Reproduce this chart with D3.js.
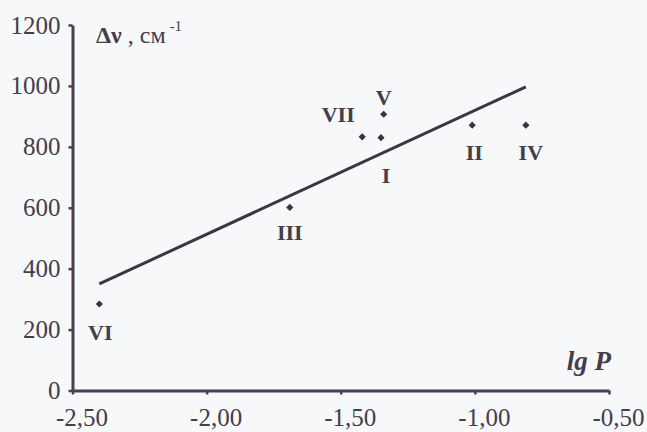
<!DOCTYPE html>
<html>
<head>
<meta charset="utf-8">
<script src="https://cdn.jsdelivr.net/npm/d3@7"></script>
<style>
  html, body { margin: 0; padding: 0; background: #f7f8fa; }
  svg { display: block; }
</style>
</head>
<body>
<script>
// compound labels, lg P and wavenumber shift
const names = ["I", "II", "III", "IV", "V", "VI", "VII"];
const lgP = [-1.35, -1.01, -1.69, -0.81, -1.34, -2.40, -1.42];
const dnu = [830, 871, 601, 871, 907, 284, 833];

// regression line end points
const fitX = [-2.40, -0.81];
const fitY = [350, 997];

const xTicks = [-2.5, -2.0, -1.5, -1.0, -0.5];
const yTicks = [0, 200, 400, 600, 800, 1000, 1200];

const W = 647, H = 432;
const ink = "#443d4a", axisInk = "#4b3f58";
const serif = "'Liberation Serif', 'Times New Roman', serif";

const svg = d3.select("body").append("svg")
  .attr("width", W)
  .attr("height", H)
  .attr("xmlns", "http://www.w3.org/2000/svg");

svg.append("rect").attr("width", W).attr("height", H).attr("fill", "#f7f8fa");

const x = d3.scaleLinear().domain([-2.5, -0.5]).range([72.5, 609]);
const y = d3.scaleLinear().domain([0, 1200]).range([390.5, 25]);

const comma = d => d3.format(".2f")(d).replace(".", ",").replace("−", "-");

// y axis
const gy = svg.append("g")
  .attr("transform", "translate(" + x(-2.5) + ",0)")
  .call(d3.axisLeft(y).tickValues(yTicks).tickFormat(d3.format("d")).tickSize(4).tickSizeOuter(0).tickPadding(8));
gy.select(".domain").attr("stroke", axisInk).attr("stroke-width", 3);
gy.selectAll(".tick line").attr("stroke", axisInk).attr("stroke-width", 2.5);
gy.selectAll(".tick text")
  .attr("fill", ink)
  .style("font-family", serif)
  .style("font-size", "25px");

// x axis
const gx = svg.append("g")
  .attr("transform", "translate(0," + y(0) + ")")
  .call(d3.axisBottom(x).tickValues(xTicks).tickFormat(comma).tickSize(4).tickSizeOuter(0).tickPadding(14));
gx.select(".domain").attr("stroke", axisInk).attr("stroke-width", 3);
gx.selectAll(".tick line").attr("stroke", axisInk).attr("stroke-width", 2.5);
gx.selectAll(".tick text")
  .attr("fill", ink)
  .attr("dx", "9px")
  .style("font-family", serif)
  .style("font-size", "25px");

// fitted line
svg.append("line")
  .attr("x1", x(fitX[0])).attr("y1", y(fitY[0]))
  .attr("x2", x(fitX[1])).attr("y2", y(fitY[1]))
  .attr("stroke", "#3d3540")
  .attr("stroke-width", 3);

// points (small diamonds)
const pts = names.map((n, i) => ({ n: n, x: lgP[i], y: dnu[i] }));
svg.selectAll(".pt")
  .data(pts)
  .enter().append("path")
  .attr("class", "pt")
  .attr("d", d3.symbol().type(d3.symbolSquare).size(26))
  .attr("transform", d => "translate(" + x(d.x) + "," + y(d.y) + ") rotate(45)")
  .attr("fill", "#3a3340");

// label offsets from each point, in pixels
const offset = {
  "I": [5, 45], "II": [2, 35], "III": [0, 33], "IV": [5, 35],
  "V": [0, -9], "VI": [1, 36], "VII": [-24, -15]
};
svg.selectAll(".lbl")
  .data(pts)
  .enter().append("text")
  .attr("class", "lbl")
  .attr("x", d => x(d.x) + offset[d.n][0])
  .attr("y", d => y(d.y) + offset[d.n][1])
  .attr("text-anchor", "middle")
  .attr("fill", ink)
  .style("font-family", serif)
  .style("font-weight", "bold")
  .style("font-size", "22px")
  .text(d => d.n);

// axis titles
const yt = svg.append("text")
  .attr("x", 96).attr("y", 43)
  .attr("fill", ink)
  .style("font-family", serif)
  .style("font-size", "24px");
yt.append("tspan").style("font-weight", "bold").text("Δν");
yt.append("tspan").text(" , см");
yt.append("tspan").attr("dy", -12).attr("dx", 4).style("font-size", "15px").text("-1");

svg.append("text")
  .attr("x", 611).attr("y", 370)
  .attr("text-anchor", "end")
  .attr("fill", ink)
  .style("font-family", serif)
  .style("font-weight", "bold")
  .style("font-style", "italic")
  .style("font-size", "27px")
  .text("lg P");
</script>
</body>
</html>
